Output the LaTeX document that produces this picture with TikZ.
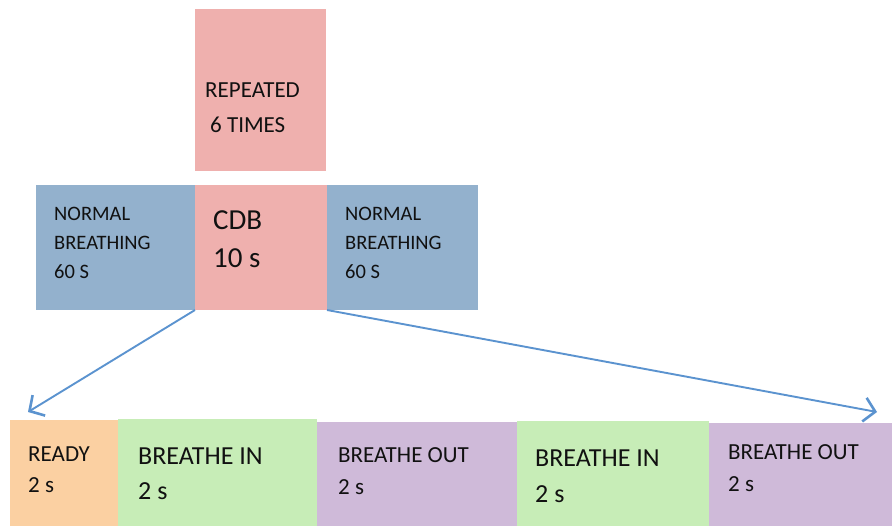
\documentclass[tikz,border=0pt]{standalone}
\usepackage{fontspec}
\setmainfont{Carlito}
\usetikzlibrary{arrows.meta}
\definecolor{pinkc}{HTML}{EFB0AE}
\definecolor{bluec}{HTML}{93B1CD}
\definecolor{orangec}{HTML}{FBD0A2}
\definecolor{greenc}{HTML}{C7EDB7}
\definecolor{purplec}{HTML}{CFBAD9}
\definecolor{arrowc}{HTML}{5B93CF}
\definecolor{txt}{HTML}{111111}
\tikzset{
  lbl/.style={anchor=base west, inner sep=0pt, text=txt},
  conn/.style={draw=arrowc, line width=1.9pt, -{Straight Barb[length=11pt,width=24pt,line width=2.6pt]}}
}
\begin{document}
\begin{tikzpicture}[x=1pt,y=-1pt]
\useasboundingbox (0,0) rectangle (892,526);
% boxes
\fill[pinkc] (195,9) rectangle (326,171);
\fill[bluec] (36,185) rectangle (195,310);
\fill[pinkc] (195,185) rectangle (327,310);
\fill[bluec] (327,185) rectangle (478,310);
\fill[orangec] (10,420) rectangle (118,526);
\fill[greenc] (118,419) rectangle (317,526);
\fill[purplec] (317,422) rectangle (517,526);
\fill[greenc] (517,421) rectangle (709,526);
\fill[purplec] (709,423) rectangle (892,526);
% named anchors for connectors
\coordinate (cdbsw) at (195,310);
\coordinate (cdbse) at (327,310);
\coordinate (readytip) at (28,412);
\coordinate (outtip) at (877,412);
% texts
\node[lbl, font=\fontsize{23}{23}\selectfont] (r1) at (205,98) {REPEATED};
\node[lbl, font=\fontsize{23}{23}\selectfont] (r2) at (210,133) {6 TIMES};
\node[lbl, font=\fontsize{20.5}{20.5}\selectfont] (nl1) at (54,221) {NORMAL};
\node[lbl, font=\fontsize{20.5}{20.5}\selectfont] (nl2) at (54,250) {BREATHING};
\node[lbl, font=\fontsize{20.5}{20.5}\selectfont] (nl3) at (54,279) {60 S};
\node[lbl, font=\fontsize{20.5}{20.5}\selectfont] (nr1) at (345,221) {NORMAL};
\node[lbl, font=\fontsize{20.5}{20.5}\selectfont] (nr2) at (345,250) {BREATHING};
\node[lbl, font=\fontsize{20.5}{20.5}\selectfont] (nr3) at (345,279) {60 S};
\node[lbl, font=\fontsize{29}{29}\selectfont] (c1) at (213,230) {CDB};
\node[lbl, font=\fontsize{29}{29}\selectfont] (c2) at (213,268) {10 s};
\node[lbl, font=\fontsize{23}{23}\selectfont] (b1) at (28,462) {READY};
\node[lbl, font=\fontsize{23}{23}\selectfont] (b1s) at (28,493) {2 s};
\node[lbl, font=\fontsize{26}{26}\selectfont] (b2) at (138,465) {BREATHE IN};
\node[lbl, font=\fontsize{26}{26}\selectfont] (b2s) at (138,500) {2 s};
\node[lbl, font=\fontsize{23}{23}\selectfont] (b3) at (338,463) {BREATHE OUT};
\node[lbl, font=\fontsize{23}{23}\selectfont] (b3s) at (338,495) {2 s};
\node[lbl, font=\fontsize{26}{26}\selectfont] (b4) at (535,467) {BREATHE IN};
\node[lbl, font=\fontsize{26}{26}\selectfont] (b4s) at (535,502) {2 s};
\node[lbl, font=\fontsize{23}{23}\selectfont] (b5) at (728,460) {BREATHE OUT};
\node[lbl, font=\fontsize{23}{23}\selectfont] (b5s) at (728,492) {2 s};
% connectors
\draw[conn] (cdbsw) -- (readytip);
\draw[conn] (cdbse) -- (outtip);
\end{tikzpicture}
\end{document}
